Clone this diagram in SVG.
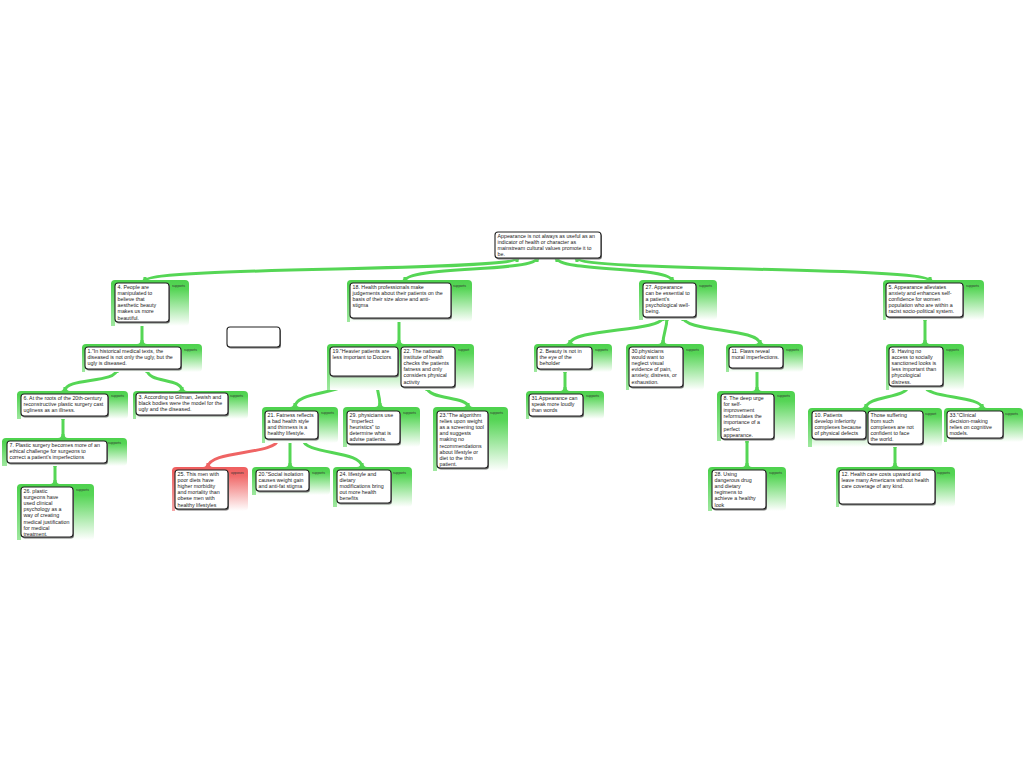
<svg xmlns="http://www.w3.org/2000/svg" width="1024" height="768" viewBox="0 0 1024 768">
<defs>
<linearGradient id="gg" x1="0" y1="0" x2="0" y2="1">
<stop offset="0" stop-color="#4ed24e"/>
<stop offset="0.2" stop-color="#56d556"/>
<stop offset="1" stop-color="#ffffff"/>
</linearGradient>
<linearGradient id="gs" x1="0" y1="0" x2="0" y2="1">
<stop offset="0" stop-color="#4ed24e"/>
<stop offset="1" stop-color="#9fe89f"/>
</linearGradient>
<linearGradient id="rg" x1="0" y1="0" x2="0" y2="1">
<stop offset="0" stop-color="#ef5f5f"/>
<stop offset="0.2" stop-color="#f06a6a"/>
<stop offset="1" stop-color="#ffffff"/>
</linearGradient>
<linearGradient id="rs" x1="0" y1="0" x2="0" y2="1">
<stop offset="0" stop-color="#ef5f5f"/>
<stop offset="1" stop-color="#f5a5a5"/>
</linearGradient>
<path id="fu" d="M-5,0 Q-1.5,0 -1.5,4 L1.5,4 Q1.5,0 5,0 Z"/>
<path id="fd" d="M-5,0 Q-1.5,0 -1.5,-4 L1.5,-4 Q1.5,0 5,0 Z"/>
</defs>
<style>
.cont{fill:url(#gg)}
.strip{fill:url(#gs)}
.contr{fill:url(#rg)}
.stripr{fill:url(#rs)}
.sh{fill:#777}
.box{fill:#fff;stroke:#222;stroke-width:1.1}
.t{font-family:"Liberation Sans",Arial,sans-serif;font-size:5.3px;fill:#222}
.s{font-family:"Liberation Sans",Arial,sans-serif;font-size:3.4px;fill:#333}
.ln{fill:none;stroke:#55d655;stroke-width:3;stroke-linecap:butt}
.lr{fill:none;stroke:#ef6464;stroke-width:3}
.fg{fill:#55d655}
.fr{fill:#ef6464}
</style>
<rect width="1024" height="768" fill="#fff"/>

<g id="connectors">
<path class="ln" d="M517,258 C517,272 145,266 145,281"/>
<path class="ln" d="M537,258 C537,272 405,266 405,281"/>
<path class="ln" d="M557,258 C557,272 672,266 672,281"/>
<path class="ln" d="M577,258 C577,272 930,266 930,281"/>
<path class="ln" d="M142,322 L142,344"/>
<path class="ln" d="M117,369 C117,384 65,377 65,391"/>
<path class="ln" d="M147,369 C147,384 182,377 182,391"/>
<path class="ln" d="M63,416 L63,438"/>
<path class="ln" d="M55,463 L55,484"/>
<path class="ln" d="M399,318 L399,344"/>
<path class="ln" d="M353,376 C353,395 295,390 295,407"/>
<path class="ln" d="M376,376 C376,392 380,392 380,407"/>
<path class="ln" d="M427,387 C427,400 468,396 468,407"/>
<path class="lr" d="M278,439 C278,455 208,450 208,467"/>
<path class="ln" d="M290,439 L290,467"/>
<path class="ln" d="M303,439 C303,455 362,450 362,467"/>
<path class="ln" d="M663,317 C663,332 570,328 570,344"/>
<path class="ln" d="M667,317 C667,330 663,332 663,344"/>
<path class="ln" d="M683,317 C683,332 760,328 760,344"/>
<path class="ln" d="M565,369 L565,391"/>
<path class="ln" d="M757,368 L757,391"/>
<path class="ln" d="M747,439 L747,467"/>
<path class="ln" d="M925,317 L925,344"/>
<path class="ln" d="M908,386 C908,398 866,396 866,408"/>
<path class="ln" d="M925,386 C925,398 982,396 982,408"/>
<path class="ln" d="M895,444 L895,467"/>
<g class="fg">
<use href="#fu" x="517" y="258"/><use href="#fu" x="537" y="258"/><use href="#fu" x="557" y="258"/><use href="#fu" x="577" y="258"/>
<use href="#fu" x="142" y="322"/><use href="#fu" x="117" y="369"/><use href="#fu" x="147" y="369"/><use href="#fu" x="63" y="416"/>
<use href="#fu" x="55" y="463"/><use href="#fu" x="399" y="318"/><use href="#fu" x="353" y="376"/><use href="#fu" x="376" y="376"/>
<use href="#fu" x="427" y="387"/><use href="#fu" x="290" y="439"/><use href="#fu" x="303" y="439"/>
<use href="#fu" x="663" y="317"/><use href="#fu" x="667" y="317"/><use href="#fu" x="683" y="317"/><use href="#fu" x="565" y="369"/>
<use href="#fu" x="757" y="368"/><use href="#fu" x="747" y="439"/><use href="#fu" x="925" y="317"/><use href="#fu" x="908" y="386"/>
<use href="#fu" x="925" y="386"/><use href="#fu" x="895" y="444"/>
<use href="#fd" x="145" y="281"/><use href="#fd" x="405" y="281"/><use href="#fd" x="672" y="281"/><use href="#fd" x="930" y="281"/>
<use href="#fd" x="142" y="344"/><use href="#fd" x="65" y="391"/><use href="#fd" x="182" y="391"/><use href="#fd" x="63" y="438"/>
<use href="#fd" x="55" y="484"/><use href="#fd" x="399" y="344"/><use href="#fd" x="295" y="407"/><use href="#fd" x="380" y="407"/>
<use href="#fd" x="468" y="407"/><use href="#fd" x="290" y="467"/><use href="#fd" x="362" y="467"/>
<use href="#fd" x="570" y="344"/><use href="#fd" x="663" y="344"/><use href="#fd" x="760" y="344"/><use href="#fd" x="565" y="391"/>
<use href="#fd" x="757" y="391"/><use href="#fd" x="747" y="467"/><use href="#fd" x="925" y="344"/><use href="#fd" x="866" y="408"/>
<use href="#fd" x="982" y="408"/><use href="#fd" x="895" y="467"/>
</g>
<g class="fr">
<use href="#fu" x="278" y="439"/><use href="#fd" x="208" y="467"/>
</g>
</g>

<g id="root">
<rect class="sh" x="496" y="233.5" width="106" height="26" rx="3"/>
<rect class="box" x="495" y="232" width="106" height="26" rx="3"/>
<text class="t" x="497.5" y="237.5">Appearance is not always as useful as an</text>
<text class="t" x="497.5" y="243.7">indicator of health or character as</text>
<text class="t" x="497.5" y="249.9">mainstream cultural values promote it to</text>
<text class="t" x="497.5" y="256.1">be.</text>
</g>

<g id="n4">
<rect class="cont" x="111" y="280" width="78" height="46" rx="4"/>
<rect class="strip" x="111" y="283" width="4" height="43"/>
<text class="s" x="172" y="287">supports</text>
<rect class="sh" x="116" y="284.5" width="54" height="39" rx="3"/>
<rect class="box" x="115" y="283" width="54" height="39" rx="3"/>
<text class="t" x="117.5" y="288.5">4. People are</text>
<text class="t" x="117.5" y="294.7">manipulated to</text>
<text class="t" x="117.5" y="300.9">believe that</text>
<text class="t" x="117.5" y="307.1">aesthetic beauty</text>
<text class="t" x="117.5" y="313.3">makes us more</text>
<text class="t" x="117.5" y="319.5">beautiful.</text>
</g>

<g id="n1">
<rect class="cont" x="82" y="344" width="120" height="28" rx="4"/>
<rect class="strip" x="82" y="347" width="3" height="25"/>
<text class="s" x="184" y="351">supports</text>
<rect class="sh" x="86" y="348.5" width="96" height="22" rx="3"/>
<rect class="box" x="85" y="347" width="96" height="22" rx="3"/>
<text class="t" x="87.5" y="352.5">1."In historical medical texts, the</text>
<text class="t" x="87.5" y="358.7">diseased is not only the ugly, but the</text>
<text class="t" x="87.5" y="364.9">ugly is diseased.</text>
</g>

<g id="blank">
<rect class="sh" x="228" y="328.5" width="53" height="20" rx="3"/>
<rect class="box" x="227" y="327" width="53" height="20" rx="3"/>
</g>

<g id="n6">
<rect class="cont" x="17" y="391" width="111" height="28" rx="4"/>
<rect class="strip" x="17" y="394" width="4" height="25"/>
<text class="s" x="111" y="397">supports</text>
<rect class="sh" x="22" y="395.5" width="87" height="22" rx="3"/>
<rect class="box" x="21" y="394" width="87" height="22" rx="3"/>
<text class="t" x="23.5" y="399.5">6. At the roots of the 20th-century</text>
<text class="t" x="23.5" y="405.7">reconstructive plastic surgery cast</text>
<text class="t" x="23.5" y="411.9">ugliness as an illness.</text>
</g>

<g id="n3">
<rect class="cont" x="133" y="391" width="115" height="28" rx="4"/>
<rect class="strip" x="133" y="394" width="3" height="25"/>
<text class="s" x="230" y="397">supports</text>
<rect class="sh" x="137" y="394.5" width="92" height="22" rx="3"/>
<rect class="box" x="136" y="393" width="92" height="22" rx="3"/>
<text class="t" x="138.5" y="398.5">3. According to Gilman, Jewish and</text>
<text class="t" x="138.5" y="404.7">black bodies were the model for the</text>
<text class="t" x="138.5" y="410.9">ugly and the diseased.</text>
</g>

<g id="n7">
<rect class="cont" x="2" y="438" width="125" height="28" rx="4"/>
<rect class="strip" x="2" y="441" width="5" height="25"/>
<text class="s" x="108" y="444">supports</text>
<rect class="sh" x="8" y="442.5" width="100" height="22" rx="3"/>
<rect class="box" x="7" y="441" width="100" height="22" rx="3"/>
<text class="t" x="9.5" y="446.5">7. Plastic surgery becomes more of an</text>
<text class="t" x="9.5" y="452.7">ethical challenge for surgeons to</text>
<text class="t" x="9.5" y="458.9">correct a patient's imperfections</text>
</g>

<g id="n26">
<rect class="cont" x="17" y="484" width="77" height="56" rx="4"/>
<rect class="strip" x="17" y="487" width="4" height="53"/>
<text class="s" x="76" y="491">supports</text>
<rect class="sh" x="22" y="488.5" width="52" height="50" rx="3"/>
<rect class="box" x="21" y="487" width="52" height="50" rx="3"/>
<text class="t" x="23.5" y="492.5">26. plastic</text>
<text class="t" x="23.5" y="498.7">surgeons have</text>
<text class="t" x="23.5" y="504.9">used clinical</text>
<text class="t" x="23.5" y="511.1">psychology as a</text>
<text class="t" x="23.5" y="517.3">way of creating</text>
<text class="t" x="23.5" y="523.5">medical justification</text>
<text class="t" x="23.5" y="529.7">for medical</text>
<text class="t" x="23.5" y="535.9">treatment.</text>
</g>

<g id="n18">
<rect class="cont" x="347" y="280" width="125" height="42" rx="4"/>
<rect class="strip" x="347" y="283" width="3" height="39"/>
<text class="s" x="453" y="287">supports</text>
<rect class="sh" x="351" y="284.5" width="101" height="35" rx="3"/>
<rect class="box" x="350" y="283" width="101" height="35" rx="3"/>
<text class="t" x="352.5" y="288.5">18. Health professionals make</text>
<text class="t" x="352.5" y="294.7">judgements about their patients on the</text>
<text class="t" x="352.5" y="300.9">basis of their size alone and anti-</text>
<text class="t" x="352.5" y="307.1">stigma</text>
</g>

<g id="n19-22">
<rect class="cont" x="327" y="344" width="147" height="46" rx="4"/>
<rect class="strip" x="327" y="347" width="3" height="43"/>
<text class="s" x="458" y="351">support</text>
<rect class="sh" x="331" y="348.5" width="68" height="29" rx="3"/>
<rect class="box" x="330" y="347" width="68" height="29" rx="3"/>
<text class="t" x="332.5" y="352.5">19."Heavier patients are</text>
<text class="t" x="332.5" y="358.7">less important to Doctors</text>
<rect class="sh" x="402" y="348.5" width="54" height="40" rx="3"/>
<rect class="box" x="401" y="347" width="54" height="40" rx="3"/>
<text class="t" x="403.5" y="352.5">22. The national</text>
<text class="t" x="403.5" y="358.7">institute of health</text>
<text class="t" x="403.5" y="364.9">checks the patients</text>
<text class="t" x="403.5" y="371.1">fatness and only</text>
<text class="t" x="403.5" y="377.3">considers physical</text>
<text class="t" x="403.5" y="383.5">activity</text>
</g>

<g id="n21">
<rect class="cont" x="262" y="407" width="76" height="36" rx="4"/>
<rect class="strip" x="262" y="410" width="3" height="33"/>
<text class="s" x="321" y="414">supports</text>
<rect class="sh" x="266" y="412.5" width="53" height="28" rx="3"/>
<rect class="box" x="265" y="411" width="53" height="28" rx="3"/>
<text class="t" x="267.5" y="416.5">21. Fatness reflects</text>
<text class="t" x="267.5" y="422.7">a bad health style</text>
<text class="t" x="267.5" y="428.9">and thinness is a</text>
<text class="t" x="267.5" y="435.1">healthy lifestyle.</text>
</g>

<g id="n29">
<rect class="cont" x="343" y="407" width="77" height="40" rx="4"/>
<rect class="strip" x="343" y="410" width="4" height="37"/>
<text class="s" x="403" y="414">supports</text>
<rect class="sh" x="348" y="412.5" width="53" height="33" rx="3"/>
<rect class="box" x="347" y="411" width="53" height="33" rx="3"/>
<text class="t" x="349.5" y="416.5">29. physicians  use</text>
<text class="t" x="349.5" y="422.7">"imperfect</text>
<text class="t" x="349.5" y="428.9">heuristics" to</text>
<text class="t" x="349.5" y="435.1">determine what is</text>
<text class="t" x="349.5" y="441.3">advise patients.</text>
</g>

<g id="n23">
<rect class="cont" x="433" y="407" width="75" height="64" rx="4"/>
<rect class="strip" x="433" y="410" width="4" height="61"/>
<text class="s" x="490" y="414">supports</text>
<rect class="sh" x="438" y="412.5" width="51" height="57" rx="3"/>
<rect class="box" x="437" y="411" width="51" height="57" rx="3"/>
<text class="t" x="439.5" y="416.5">23."The algorithm</text>
<text class="t" x="439.5" y="422.7">relies upon weight</text>
<text class="t" x="439.5" y="428.9">as a screening tool</text>
<text class="t" x="439.5" y="435.1">and suggests</text>
<text class="t" x="439.5" y="441.3">making no</text>
<text class="t" x="439.5" y="447.5">recommendations</text>
<text class="t" x="439.5" y="453.7">about lifestyle or</text>
<text class="t" x="439.5" y="459.9">diet to the thin</text>
<text class="t" x="439.5" y="466.1">patient.</text>
</g>

<g id="n25">
<rect class="contr" x="172" y="467" width="76" height="44" rx="4"/>
<rect class="stripr" x="172" y="470" width="3" height="41"/>
<text class="s" x="231" y="474">opposes</text>
<rect class="sh" x="176" y="471.5" width="53" height="39" rx="3"/>
<rect class="box" x="175" y="470" width="53" height="39" rx="3"/>
<text class="t" x="177.5" y="475.5">25. This men with</text>
<text class="t" x="177.5" y="481.7">poor diets have</text>
<text class="t" x="177.5" y="487.9">higher morbidity</text>
<text class="t" x="177.5" y="494.1">and mortality than</text>
<text class="t" x="177.5" y="500.3">obese men with</text>
<text class="t" x="177.5" y="506.5">healthy lifestyles</text>
</g>

<g id="n20">
<rect class="cont" x="252" y="467" width="78" height="28" rx="4"/>
<rect class="strip" x="252" y="470" width="4" height="25"/>
<text class="s" x="312" y="474">supports</text>
<rect class="sh" x="257" y="471.5" width="53" height="21" rx="3"/>
<rect class="box" x="256" y="470" width="53" height="21" rx="3"/>
<text class="t" x="258.5" y="475.5">20."Social isolation</text>
<text class="t" x="258.5" y="481.7">causes weight gain</text>
<text class="t" x="258.5" y="487.9">and anti-fat stigma</text>
</g>

<g id="n24">
<rect class="cont" x="333" y="467" width="79" height="40" rx="4"/>
<rect class="strip" x="333" y="470" width="4" height="37"/>
<text class="s" x="393" y="474">supports</text>
<rect class="sh" x="338" y="471.5" width="54" height="33" rx="3"/>
<rect class="box" x="337" y="470" width="54" height="33" rx="3"/>
<text class="t" x="339.5" y="475.5">24. lifestyle and</text>
<text class="t" x="339.5" y="481.7">dietary</text>
<text class="t" x="339.5" y="487.9">modifications bring</text>
<text class="t" x="339.5" y="494.1">out more health</text>
<text class="t" x="339.5" y="500.3">benefits</text>
</g>

<g id="n27">
<rect class="cont" x="639" y="280" width="78" height="40" rx="4"/>
<rect class="strip" x="639" y="283" width="4" height="37"/>
<text class="s" x="699" y="287">supports</text>
<rect class="sh" x="644" y="284.5" width="53" height="34" rx="3"/>
<rect class="box" x="643" y="283" width="53" height="34" rx="3"/>
<text class="t" x="645.5" y="288.5">27. Appearance</text>
<text class="t" x="645.5" y="294.7">can be essential to</text>
<text class="t" x="645.5" y="300.9">a patient's</text>
<text class="t" x="645.5" y="307.1">psychological well-</text>
<text class="t" x="645.5" y="313.3">being.</text>
</g>

<g id="n2">
<rect class="cont" x="534" y="344" width="78" height="28" rx="4"/>
<rect class="strip" x="534" y="347" width="3" height="25"/>
<text class="s" x="595" y="351">supports</text>
<rect class="sh" x="538" y="348.5" width="55" height="22" rx="3"/>
<rect class="box" x="537" y="347" width="55" height="22" rx="3"/>
<text class="t" x="539.5" y="352.5">2. Beauty is not in</text>
<text class="t" x="539.5" y="358.7">the eye of the</text>
<text class="t" x="539.5" y="364.9">beholder</text>
</g>

<g id="n30">
<rect class="cont" x="626" y="344" width="78" height="46" rx="4"/>
<rect class="strip" x="626" y="347" width="3" height="43"/>
<text class="s" x="686" y="351">supports</text>
<rect class="sh" x="630" y="348.5" width="54" height="40" rx="3"/>
<rect class="box" x="629" y="347" width="54" height="40" rx="3"/>
<text class="t" x="631.5" y="352.5">30.physicians</text>
<text class="t" x="631.5" y="358.7">would want to</text>
<text class="t" x="631.5" y="364.9">neglect visual</text>
<text class="t" x="631.5" y="371.1">evidence of pain,</text>
<text class="t" x="631.5" y="377.3">anxiety, distress, or</text>
<text class="t" x="631.5" y="383.5">exhaustion.</text>
</g>

<g id="n11">
<rect class="cont" x="726" y="344" width="77" height="28" rx="4"/>
<rect class="strip" x="726" y="347" width="3" height="25"/>
<text class="s" x="786" y="351">supports</text>
<rect class="sh" x="730" y="348.5" width="54" height="21" rx="3"/>
<rect class="box" x="729" y="347" width="54" height="21" rx="3"/>
<text class="t" x="731.5" y="352.5">11. Flaws reveal</text>
<text class="t" x="731.5" y="358.7">moral imperfections.</text>
</g>

<g id="n31">
<rect class="cont" x="526" y="391" width="78" height="28" rx="4"/>
<rect class="strip" x="526" y="394" width="3" height="25"/>
<text class="s" x="586" y="397">supports</text>
<rect class="sh" x="530" y="395.5" width="54" height="22" rx="3"/>
<rect class="box" x="529" y="394" width="54" height="22" rx="3"/>
<text class="t" x="531.5" y="399.5">31.Appearance can</text>
<text class="t" x="531.5" y="405.7">speak more loudly</text>
<text class="t" x="531.5" y="411.9">than words</text>
</g>

<g id="n8">
<rect class="cont" x="717" y="391" width="78" height="50" rx="4"/>
<rect class="strip" x="717" y="394" width="4" height="47"/>
<text class="s" x="777" y="397">supports</text>
<rect class="sh" x="722" y="395.5" width="53" height="45" rx="3"/>
<rect class="box" x="721" y="394" width="53" height="45" rx="3"/>
<text class="t" x="723.5" y="399.5">8. The deep urge</text>
<text class="t" x="723.5" y="405.7">for self-</text>
<text class="t" x="723.5" y="411.9">improvement</text>
<text class="t" x="723.5" y="418.1">reformulates the</text>
<text class="t" x="723.5" y="424.3">importance of a</text>
<text class="t" x="723.5" y="430.5">perfect</text>
<text class="t" x="723.5" y="436.7">appearance.</text>
</g>

<g id="n28">
<rect class="cont" x="708" y="467" width="78" height="44" rx="4"/>
<rect class="strip" x="708" y="470" width="4" height="41"/>
<text class="s" x="769" y="474">supports</text>
<rect class="sh" x="713" y="471.5" width="54" height="39" rx="3"/>
<rect class="box" x="712" y="470" width="54" height="39" rx="3"/>
<text class="t" x="714.5" y="475.5">28. Using</text>
<text class="t" x="714.5" y="481.7">dangerous drug</text>
<text class="t" x="714.5" y="487.9">and dietary</text>
<text class="t" x="714.5" y="494.1">regimens to</text>
<text class="t" x="714.5" y="500.3">achieve a healthy</text>
<text class="t" x="714.5" y="506.5">look</text>
</g>

<g id="n5">
<rect class="cont" x="883" y="280" width="101" height="40" rx="4"/>
<rect class="strip" x="883" y="283" width="3" height="37"/>
<text class="s" x="966" y="287">supports</text>
<rect class="sh" x="887" y="284.5" width="77" height="34" rx="3"/>
<rect class="box" x="886" y="283" width="77" height="34" rx="3"/>
<text class="t" x="888.5" y="288.5">5. Appearance alleviates</text>
<text class="t" x="888.5" y="294.7">anxiety and enhances self-</text>
<text class="t" x="888.5" y="300.9">confidence for women</text>
<text class="t" x="888.5" y="307.1">population who are within a</text>
<text class="t" x="888.5" y="313.3">racist socio-political system.</text>
</g>

<g id="n9">
<rect class="cont" x="886" y="344" width="78" height="46" rx="4"/>
<rect class="strip" x="886" y="347" width="3" height="43"/>
<text class="s" x="946" y="351">supports</text>
<rect class="sh" x="890" y="348.5" width="54" height="39" rx="3"/>
<rect class="box" x="889" y="347" width="54" height="39" rx="3"/>
<text class="t" x="891.5" y="352.5">9. Having no</text>
<text class="t" x="891.5" y="358.7">access to socially</text>
<text class="t" x="891.5" y="364.9">sanctioned looks is</text>
<text class="t" x="891.5" y="371.1">less important than</text>
<text class="t" x="891.5" y="377.3">phycological</text>
<text class="t" x="891.5" y="383.5">distress.</text>
</g>

<g id="n10-those">
<rect class="cont" x="808" y="408" width="134" height="39" rx="4"/>
<rect class="strip" x="808" y="411" width="4" height="36"/>
<text class="s" x="925" y="415">support</text>
<rect class="sh" x="813" y="412.5" width="54" height="28" rx="3"/>
<rect class="box" x="812" y="411" width="54" height="28" rx="3"/>
<text class="t" x="814.5" y="416.5">10. Patients</text>
<text class="t" x="814.5" y="422.7">develop inferiority</text>
<text class="t" x="814.5" y="428.9">complexes because</text>
<text class="t" x="814.5" y="435.1">of physical defects</text>
<rect class="sh" x="869" y="412.5" width="55" height="33" rx="3"/>
<rect class="box" x="868" y="411" width="55" height="33" rx="3"/>
<text class="t" x="870.5" y="416.5">Those suffering</text>
<text class="t" x="870.5" y="422.7">from such</text>
<text class="t" x="870.5" y="428.9">complexes are not</text>
<text class="t" x="870.5" y="435.1">confident to face</text>
<text class="t" x="870.5" y="441.3">the world.</text>
</g>

<g id="n33">
<rect class="cont" x="944" y="408" width="79" height="34" rx="4"/>
<rect class="strip" x="944" y="411" width="3" height="31"/>
<text class="s" x="1005" y="415">supports</text>
<rect class="sh" x="948" y="412.5" width="56" height="27" rx="3"/>
<rect class="box" x="947" y="411" width="56" height="27" rx="3"/>
<text class="t" x="949.5" y="416.5">33."Clinical</text>
<text class="t" x="949.5" y="422.7">decision-making</text>
<text class="t" x="949.5" y="428.9">relies on cognitive</text>
<text class="t" x="949.5" y="435.1">models.</text>
</g>

<g id="n12">
<rect class="cont" x="836" y="467" width="119" height="40" rx="4"/>
<rect class="strip" x="836" y="470" width="3" height="37"/>
<text class="s" x="937" y="474">supports</text>
<rect class="sh" x="840" y="471.5" width="96" height="34" rx="3"/>
<rect class="box" x="839" y="470" width="96" height="34" rx="3"/>
<text class="t" x="841.5" y="475.5">12. Health care costs upward and</text>
<text class="t" x="841.5" y="481.7">leave many Americans without health</text>
<text class="t" x="841.5" y="487.9">care coverage of any kind.</text>
</g>
</svg>
